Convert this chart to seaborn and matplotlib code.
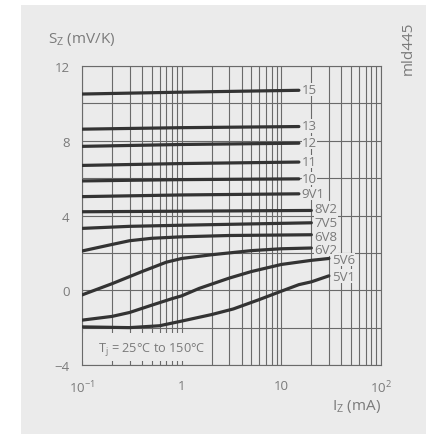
import seaborn as sns
from matplotlib import pyplot as plt
from matplotlib.patches import Rectangle
from matplotlib.ticker import FixedLocator, NullFormatter
import pandas as pd

panel = '#ebebeb'
grid_col = '#6a6a6a'
text_col = '#7a7a7a'

sns.set_style('white', {'axes.facecolor': panel})
plt.rcParams['font.family'] = ['Open Sans', 'DejaVu Sans']
plt.rcParams['mathtext.default'] = 'regular'

# Temperature coefficient curves: I_Z (mA) -> S_Z (mV/K), one per Zener voltage
labels = ['15', '13', '12', '11', '10', '9V1', '8V2', '7V5', '6V8', '6V2', '5V6', '5V1']
iz = {
    '15': [0.1, 1, 15],
    '13': [0.1, 1, 15],
    '12': [0.1, 1, 15],
    '11': [0.1, 1, 15],
    '10': [0.1, 1, 15],
    '9V1': [0.1, 1, 15],
    '8V2': [0.1, 1, 20],
    '7V5': [0.1, 0.3, 1, 5, 20],
    '6V8': [0.1, 0.2, 0.3, 0.5, 1, 3, 20],
    '6V2': [0.1, 0.2, 0.4, 0.7, 1, 2, 5, 10, 20],
    '5V6': [0.1, 0.2, 0.3, 0.5, 0.8, 1, 1.5, 3, 5, 10, 20, 30],
    '5V1': [0.1, 0.3, 0.6, 1, 2, 3.3, 6, 10, 15, 20, 30],
}
sz = {
    '15': [10.5, 10.6, 10.7],
    '13': [8.62, 8.7, 8.76],
    '12': [7.7, 7.8, 7.87],
    '11': [6.68, 6.78, 6.86],
    '10': [5.85, 5.92, 5.96],
    '9V1': [5.01, 5.1, 5.16],
    '8V2': [4.2, 4.23, 4.27],
    '7V5': [3.31, 3.42, 3.48, 3.55, 3.61],
    '6V8': [2.1, 2.45, 2.65, 2.78, 2.86, 2.93, 2.97],
    '6V2': [-0.25, 0.35, 1.0, 1.5, 1.7, 1.9, 2.12, 2.22, 2.26],
    '5V6': [-1.6, -1.4, -1.19, -0.8, -0.45, -0.3, 0.1, 0.65, 1.0, 1.38, 1.6, 1.7],
    '5V1': [-1.96, -2.0, -1.9, -1.65, -1.3, -1.0, -0.5, -0.05, 0.3, 0.45, 0.77],
}
# S_Z value at the centre of each curve label
label_y = {'15': 10.75, '13': 8.8, '12': 7.9, '11': 6.9, '10': 5.98, '9V1': 5.18,
           '8V2': 4.4, '7V5': 3.65, '6V8': 2.9, '6V2': 2.2, '5V6': 1.65, '5V1': 0.75}

rows = []
for name in labels:
    for x, y in zip(iz[name], sz[name]):
        rows.append({'Vz': name, 'Iz': x, 'Sz': y})
df = pd.DataFrame(rows)

fig = plt.figure(figsize=(4.26, 4.35), dpi=100, facecolor='white')
fig.patches.append(Rectangle((21 / 426, 0), 1, 1 - 6 / 435, transform=fig.transFigure,
                             facecolor=panel, edgecolor='none', zorder=-10))
ax = fig.add_axes([82 / 426, 1 - 366 / 435, 299 / 426, 299 / 435])

sns.lineplot(data=df, x='Iz', y='Sz', hue='Vz', palette=['#333333'] * len(labels),
             linewidth=2.3, legend=False, ax=ax, zorder=3)

ax.set_xscale('log')
ax.set_xlim(0.1, 100)
ax.set_ylim(-4, 12)
ax.set_yticks([-4, 0, 4, 8, 12])
ax.set_yticklabels(['\u22124', '0', '4', '8', '12'])
ax.yaxis.set_minor_locator(FixedLocator([-2, 2, 6, 10]))
ax.set_xticks([0.1, 1, 10, 100])
ax.set_xticklabels([r'10$^{-1}$', '1', '10', r'10$^{2}$'])
ax.xaxis.set_minor_formatter(NullFormatter())
ax.grid(which='both', color=grid_col, linewidth=0.8, zorder=1)
ax.set_axisbelow(True)
ax.tick_params(which='both', length=0, colors=text_col, labelsize=9.5)
ax.tick_params(axis='y', pad=9)
ax.tick_params(axis='x', pad=10)
for s in ax.spines.values():
    s.set_color(grid_col)
    s.set_linewidth(0.8)
ax.set_xlabel('')
ax.set_ylabel('')

# curve labels at the right end of each line
for name in labels:
    ax.text(iz[name][-1] * 1.07, label_y[name], name, ha='left', va='center',
            fontsize=9.5, color=text_col, zorder=4,
            bbox=dict(facecolor=panel, edgecolor='none', pad=0.2))

# blank area behind the junction temperature note
ax.add_patch(Rectangle((0.102, -3.8), 1.65 - 0.102, 1.5, facecolor=panel,
                       edgecolor='none', zorder=2))
ax.text(0.145, -3.1, r'T$_j$ = 25°C to 150°C', ha='left', va='center', fontsize=9.2,
        color=text_col, zorder=4)

fig.text(48 / 426, 1 - 40 / 435, r'S$_Z$ (mV/K)', ha='left', va='center', fontsize=11, color=text_col)
fig.text(381 / 426, 1 - 407 / 435, r'I$_Z$ (mA)', ha='right', va='center', fontsize=11, color=text_col)
fig.text(408 / 426, 1 - 48 / 435, 'mld445', ha='center', va='center', rotation=90, fontsize=11, color=text_col)

fig.savefig('out.png', dpi=100, facecolor='white')
